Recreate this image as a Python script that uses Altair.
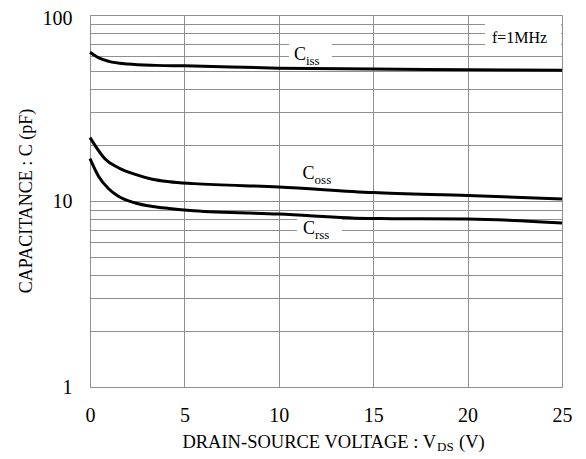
import altair as alt
import pandas as pd

# ---- data ----
ciss_x = [0, 0.5, 1, 2, 3.5, 5, 10, 15, 20, 25]
ciss_y = [63.1, 58.6, 56.3, 54.5, 53.6, 53.3, 51.8, 51.2, 50.8, 50.4]

coss_x = [0, 0.4, 0.8, 1.5, 2.4, 3.3, 4.2, 5.5, 10, 15, 20, 25]
coss_y = [21.9, 19.0, 16.8, 15.1, 13.9, 13.1, 12.7, 12.4, 11.9, 11.1, 10.7, 10.25]

crss_x = [0, 0.45, 1, 1.5, 2.4, 3.3, 4.2, 5.5, 10, 15, 17.5, 20, 25]
crss_y = [16.9, 13.6, 11.6, 10.6, 9.76, 9.35, 9.12, 8.87, 8.51, 8.05, 8.03, 8.0, 7.62]

x_ticks = [0, 5, 10, 15, 20, 25]
y_grid = [1, 2, 3, 4, 5, 6, 7, 8, 9, 10, 20, 30, 40, 50, 60, 70, 80, 90, 100]

# annotation labels (data coordinates)
lab_main = ["C", "C", "C"]
lab_sub = ["iss", "oss", "rss"]
lab_x = [10.8, 11.26, 11.28]
lab_y = [57.0, 13.15, 6.68]

# white boxes behind labels
box_x = [10.54, 10.96, 20.92]
box_x2 = [12.82, 13.35, 24.95]
box_y = [75.6, 8.24, 95.5]
box_y2 = [55.0, 6.44, 66.0]

freq_text = ["f=1MHz"]
freq_x = [21.29]
freq_y = [70.3]

FONT = "Liberation Serif"
GRID = "#8f8f8f"

curves = pd.DataFrame(
    [{"series": "Ciss", "x": a, "y": b} for a, b in zip(ciss_x, ciss_y)]
    + [{"series": "Coss", "x": a, "y": b} for a, b in zip(coss_x, coss_y)]
    + [{"series": "Crss", "x": a, "y": b} for a, b in zip(crss_x, crss_y)]
)
labels = pd.DataFrame({"main": lab_main, "sub": lab_sub, "x": lab_x, "y": lab_y})
boxes = pd.DataFrame({"x": box_x, "x2": box_x2, "y": box_y, "y2": box_y2})
freq = pd.DataFrame({"t": freq_text, "x": freq_x, "y": freq_y})

xscale = alt.Scale(domain=[0, 25], nice=False, zero=False)
yscale = alt.Scale(type="log", domain=[1, 100], nice=False)

xaxis = alt.Axis(values=x_ticks, title=None, grid=True, gridColor=GRID, gridWidth=1,
                 domain=False, ticks=False, labelFont=FONT, labelFontSize=20,
                 labelColor="black", labelPadding=18, labelFlush=False)
yaxis = alt.Axis(values=y_grid, title=None, grid=True, gridColor=GRID, gridWidth=1,
                 domain=False, ticks=False, labelFont=FONT, labelFontSize=20,
                 labelColor="black", labelPadding=18, format="d", labelFlush=False,
                 labelOffset=alt.condition("datum.value == 100", alt.value(3), alt.value(0)),
                 labelExpr="(datum.value == 1 || datum.value == 10 || datum.value == 100) ? datum.label : ''")

base = alt.Chart(curves).mark_line(color="black", strokeWidth=3, interpolate="monotone").encode(
    x=alt.X("x:Q", scale=xscale, axis=xaxis),
    y=alt.Y("y:Q", scale=yscale, axis=yaxis),
    detail="series:N",
)

rects = alt.Chart(boxes).mark_rect(color="white").encode(
    x=alt.X("x:Q", scale=xscale), x2="x2:Q",
    y=alt.Y("y:Q", scale=yscale), y2="y2:Q",
)

lab_c = alt.Chart(labels).mark_text(font=FONT, fontSize=18, align="left", baseline="alphabetic", color="black").encode(
    x=alt.X("x:Q", scale=xscale), y=alt.Y("y:Q", scale=yscale), text="main:N"
)
lab_s = alt.Chart(labels).mark_text(font=FONT, fontSize=13, align="left", baseline="alphabetic", color="black", dx=12, dy=5).encode(
    x=alt.X("x:Q", scale=xscale), y=alt.Y("y:Q", scale=yscale), text="sub:N"
)
ftxt = alt.Chart(freq).mark_text(font=FONT, fontSize=16, align="left", baseline="alphabetic", color="black").encode(
    x=alt.X("x:Q", scale=xscale), y=alt.Y("y:Q", scale=yscale), text="t:N"
)

title_df = pd.DataFrame({"a": [0]})
xt1 = alt.Chart(title_df).mark_text(text="DRAIN-SOURCE VOLTAGE : V", font=FONT, fontSize=18.5, align="right",
                                    baseline="alphabetic", color="black").encode(x=alt.value(346), y=alt.value(433))
xt2 = alt.Chart(title_df).mark_text(text="DS", font=FONT, fontSize=13, align="left",
                                    baseline="alphabetic", color="black").encode(x=alt.value(347), y=alt.value(436))
xt3 = alt.Chart(title_df).mark_text(text="(V)", font=FONT, fontSize=18.5, align="left",
                                    baseline="alphabetic", color="black").encode(x=alt.value(369), y=alt.value(433))
yt = alt.Chart(title_df).mark_text(text="CAPACITANCE : C (pF)", font=FONT, fontSize=18, align="center",
                                   baseline="middle", angle=270, color="black").encode(x=alt.value(-63), y=alt.value(186))

chart = alt.layer(rects, base, lab_c, lab_s, ftxt, xt1, xt2, xt3, yt).properties(
    width=472, height=372,
    autosize=alt.AutoSizeParams(type="none"),
    padding={"left": 82, "top": 7, "right": 16, "bottom": 70},
).configure_view(stroke="#808080", strokeWidth=2).configure(background="white")

chart.save("out.html", embed_options={"renderer": "svg", "actions": False})
